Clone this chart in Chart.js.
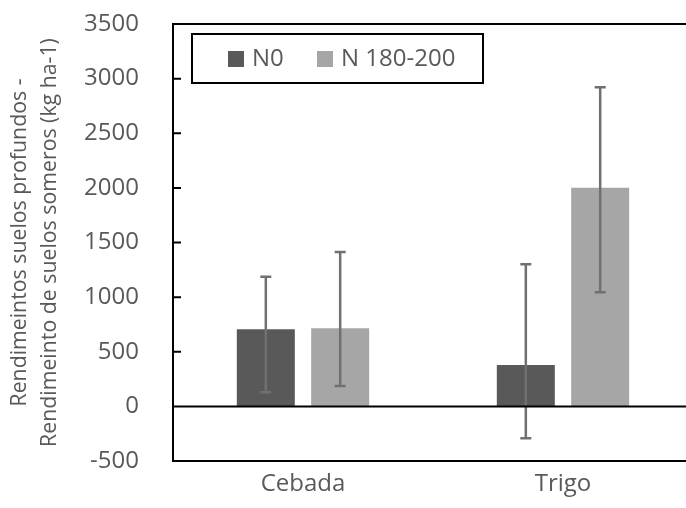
<!DOCTYPE html>
<html>
<head>
<meta charset="utf-8">
<script src="https://cdn.jsdelivr.net/npm/chart.js@4.4.1/dist/chart.umd.min.js"></script>
<style>
  html, body { margin: 0; padding: 0; background: #fff; overflow: hidden; }
  #wrap { width: 700px; height: 508px; }
</style>
</head>
<body>
<div id="wrap"><canvas id="c" width="700" height="508"></canvas></div>
<script>
const categories = ['Cebada', 'Trigo'];
const seriesLabels = ['N0', 'N 180-200'];
const n0Values = [706, 379];
const n180Values = [715, 2002];
const n0ErrLow = [130, -292];
const n0ErrHigh = [1187, 1300];
const n180ErrLow = [187, 1044];
const n180ErrHigh = [1412, 2921];
const yTicks = [-500, 0, 500, 1000, 1500, 2000, 2500, 3000, 3500];

const FONT = "'Open Sans', sans-serif";
const TEXT = '#595959';
const colors = ['#595959', '#a6a6a6'];
const errLows = [n0ErrLow, n180ErrLow];
const errHighs = [n0ErrHigh, n180ErrHigh];

const framePlugin = {
  id: 'frame',
  afterDatasetsDraw(chart) {
    const ctx = chart.ctx;
    const a = chart.chartArea;
    const y = chart.scales.y;
    ctx.save();
    // error bars
    ctx.strokeStyle = '#707070';
    ctx.lineWidth = 2.5;
    chart.data.datasets.forEach((ds, di) => {
      const meta = chart.getDatasetMeta(di);
      meta.data.forEach((bar, i) => {
        const yh = y.getPixelForValue(errHighs[di][i]);
        const yl = y.getPixelForValue(errLows[di][i]);
        ctx.beginPath();
        ctx.moveTo(bar.x, yh); ctx.lineTo(bar.x, yl);
        ctx.moveTo(bar.x - 5.5, yh); ctx.lineTo(bar.x + 5.5, yh);
        ctx.moveTo(bar.x - 5.5, yl); ctx.lineTo(bar.x + 5.5, yl);
        ctx.stroke();
      });
    });
    // frame lines
    ctx.strokeStyle = '#000';
    ctx.lineWidth = 2;
    ctx.beginPath();
    ctx.moveTo(a.left, a.top); ctx.lineTo(a.right, a.top);
    ctx.moveTo(a.left, a.top - 1); ctx.lineTo(a.left, a.bottom + 1);
    ctx.moveTo(a.left, a.bottom); ctx.lineTo(a.right, a.bottom);
    const y0 = y.getPixelForValue(0);
    ctx.moveTo(a.left, y0); ctx.lineTo(a.right, y0);
    yTicks.forEach(t => {
      const py = y.getPixelForValue(t);
      ctx.moveTo(a.left, py); ctx.lineTo(a.left + 8, py);
    });
    ctx.stroke();
    // legend
    const lx = a.left + 19, ly = a.top + 10, lw = 291, lh = 49;
    ctx.lineWidth = 2;
    ctx.strokeRect(lx, ly, lw, lh);
    ctx.font = '24px ' + FONT;
    ctx.textBaseline = 'middle';
    ctx.fillStyle = TEXT;
    const items = [{x: lx + 36, label: seriesLabels[0], c: colors[0]}, {x: lx + 125, label: seriesLabels[1], c: colors[1]}];
    items.forEach(it => {
      ctx.fillStyle = it.c;
      ctx.fillRect(it.x, ly + 17, 16, 16);
      ctx.fillStyle = TEXT;
      ctx.fillText(it.label, it.x + 24, ly + 25);
    });
    ctx.restore();
  }
};

new Chart(document.getElementById('c'), {
  type: 'bar',
  data: {
    labels: categories,
    datasets: [
      { label: seriesLabels[0], data: n0Values, backgroundColor: colors[0] },
      { label: seriesLabels[1], data: n180Values, backgroundColor: colors[1] }
    ]
  },
  options: {
    responsive: false,
    animation: false,
    devicePixelRatio: 1,
    layout: { padding: { top: 24, right: 7, left: 0, bottom: 0 } },
    categoryPercentage: 0.572,
    barPercentage: 0.78,
    plugins: { legend: { display: false }, tooltip: { enabled: false } },
    scales: {
      x: {
        grid: { display: false },
        border: { display: false },
        ticks: { color: TEXT, font: { family: FONT, size: 24 }, padding: 1 },
        afterFit(s) { s.height = 47; s.paddingLeft = 0; s.paddingRight = 0; }
      },
      y: {
        min: -500, max: 3500,
        afterBuildTicks(s) { s.ticks = yTicks.map(v => ({ value: v })); },
        grid: { display: false },
        border: { display: false },
        ticks: { color: TEXT, font: { family: FONT, size: 24 }, padding: 26, callback: v => String(v) },
        title: {
          display: true,
          text: ['Rendimeintos suelos profundos -', 'Rendimeinto de suelos someros (kg ha-1)'],
          color: TEXT,
          font: { family: FONT, size: 21.3, lineHeight: 1.42 },
          padding: { top: 5, bottom: 0 }
        },
        afterFit(s) { s.width = 173; s.paddingTop = 0; s.paddingBottom = 0; }
      }
    }
  },
  plugins: [framePlugin]
});
</script>
</body>
</html>
